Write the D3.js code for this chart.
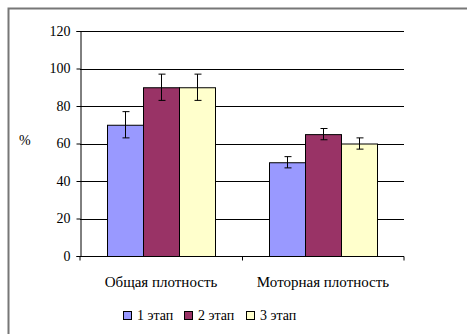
<!DOCTYPE html>
<html>
<head>
<meta charset="utf-8">
<style>
    body { margin: 0; background: #fff; }
    svg { display: block; font-family: 'Liberation Serif', 'Times New Roman', serif; }
    .grid line { stroke: #000; stroke-width: 1; }
    .y.axis .domain, .x.axis .domain { stroke: #000; }
    .y.axis text, .x.axis text { font-size: 14px; fill: #000; font-family: 'Liberation Serif', 'Times New Roman', serif; }
    .x.axis text { font-size: 15px; }
</style>
</head>
<body>
<svg width="467" height="334"></svg>
<script src="https://d3js.org/d3.v7.min.js"></script>
<script>
    const categories = ["Общая плотность", "Моторная плотность"];
    const series = ["1 этап", "2 этап", "3 этап"];
    const colors = ["#9999FF", "#993366", "#FFFFCC"];
    const values = [[70, 90, 90], [50, 65, 60]];
    const errors = [[7, 7, 7], [3, 3, 3]];
    const yTicks = [0, 20, 40, 60, 80, 100, 120];

    let svg = d3.select("svg");
    let margin = { top: 31, right: 63, bottom: 78, left: 80 };
    let width = 467, height = 334;

    // outer frame (only top and left visible in the picture)
    svg.append("path")
        .attr("d", "M8.5,334 L8.5,8.5 L467,8.5")
        .attr("fill", "none")
        .attr("stroke", "#777")
        .attr("stroke-width", 2);

    let y = d3.scaleLinear()
        .domain([0, 120])
        .range([height - margin.bottom, margin.top]);

    let x = d3.scaleBand()
        .domain(categories)
        .range([margin.left, width - margin.right])
        .paddingInner(0).paddingOuter(0);

    let xs = d3.scaleBand()
        .domain(series)
        .range([0, x.bandwidth()])
        .paddingOuter(0.75).paddingInner(0);

    // gridlines
    svg.append("g").attr("class", "grid")
        .selectAll("line")
        .data(yTicks.slice(1))
        .join("line")
        .attr("x1", margin.left).attr("x2", width - margin.right)
        .attr("y1", d => Math.round(y(d)) + 0.5).attr("y2", d => Math.round(y(d)) + 0.5);

    let bars = svg.append("g");
    categories.forEach((c, ci) => {
        let g = bars.append("g").attr("transform", `translate(${x(c)},0)`);
        g.selectAll("rect")
            .data(series)
            .join("rect")
            .attr("x", s => xs(s) + 0.5)
            .attr("y", (s, i) => y(values[ci][i]) + 0.5)
            .attr("width", xs.bandwidth())
            .attr("height", (s, i) => y(0) - y(values[ci][i]))
            .attr("fill", (s, i) => colors[i])
            .attr("stroke", "#000")
            .attr("stroke-width", 1);

        // error bars
        series.forEach((s, i) => {
            let cx = Math.round(xs(s) + xs.bandwidth() / 2) + 0.5;
            let hi = y(values[ci][i] + errors[ci][i]);
            let lo = y(values[ci][i] - errors[ci][i]);
            g.append("line").attr("x1", cx).attr("x2", cx).attr("y1", hi).attr("y2", lo)
                .attr("stroke", "#000").attr("stroke-width", 1);
            [hi, lo].forEach(v => {
                g.append("line").attr("x1", cx - 3).attr("x2", cx + 4).attr("y1", v).attr("y2", v)
                    .attr("stroke", "#000").attr("stroke-width", 1);
            });
        });
    });

    let yAxis = d3.axisLeft(y).tickValues(yTicks).tickSize(4).tickPadding(6);
    svg.append("g").attr("class", "y axis")
        .attr("transform", `translate(${margin.left + 0.5},0)`)
        .call(yAxis);

    let xAxis = d3.axisBottom(x).tickSize(0).tickPadding(20);
    let xg = svg.append("g").attr("class", "x axis")
        .attr("transform", `translate(0,${Math.round(y(0)) + 0.5})`)
        .call(xAxis);
    xg.select(".domain").attr("d", `M${margin.left},4V0H${width - margin.right}V4`);
    xg.append("line").attr("x1", x(categories[1]) + 0.5).attr("x2", x(categories[1]) + 0.5)
        .attr("y1", 0).attr("y2", 4).attr("stroke", "#000");

    svg.append("text").attr("x", 19).attr("y", 145)
        .attr("font-size", 14).text("%");

    // legend
    let legX = [123, 184, 246];
    let lg = svg.append("g");
    series.forEach((s, i) => {
        lg.append("rect").attr("x", legX[i] + 0.5).attr("y", 311.5)
            .attr("width", 8).attr("height", 8)
            .attr("fill", colors[i]).attr("stroke", "#000");
        lg.append("text").attr("x", legX[i] + 14).attr("y", 320)
            .attr("font-size", 14).text(s);
    });
</script>
</body>
</html>
